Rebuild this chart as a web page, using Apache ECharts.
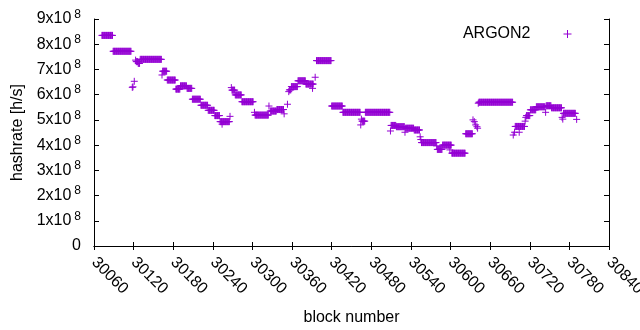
<!DOCTYPE html>
<html>
<head>
<meta charset="utf-8">
<title>ARGON2 hashrate</title>
<script src="https://cdn.jsdelivr.net/npm/echarts@6/dist/echarts.min.js"></script>
<style>
  html, body { margin: 0; padding: 0; background: #fff; }
  #chart { width: 640px; height: 330px; }
</style>
</head>
<body>
<div id="chart"></div>
<script>
// runs of constant hashrate (one point per block)
var runStart = [30072, 30089, 30118, 30119, 30121, 30123, 30124, 30127, 30130, 30163,
  30164, 30171, 30184, 30191, 30201, 30209, 30222, 30233, 30243, 30251,
  30254, 30266, 30268, 30269, 30274, 30284, 30303, 30304, 30325, 30327,
  30337, 30348, 30353, 30355, 30356, 30359, 30369, 30381, 30391, 30395,
  30397, 30420, 30437, 30464, 30465, 30466, 30471, 30509, 30510, 30518,
  30531, 30532, 30545, 30554, 30555, 30556, 30579, 30580, 30588, 30599,
  30602, 30623, 30634, 30636, 30638, 30640, 30641, 30642, 30643, 30695,
  30697, 30698, 30704, 30713, 30714, 30715, 30721, 30730, 30744, 30745,
  30753, 30769, 30770, 30771, 30791];
var runEnd = [30088, 30116, 30118, 30119, 30121, 30123, 30126, 30129, 30162, 30163,
  30170, 30183, 30190, 30200, 30208, 30221, 30232, 30242, 30250, 30265,
  30254, 30266, 30268, 30273, 30283, 30301, 30303, 30324, 30325, 30336,
  30347, 30348, 30353, 30355, 30358, 30368, 30380, 30392, 30391, 30395,
  30419, 30436, 30463, 30464, 30465, 30470, 30508, 30509, 30517, 30530,
  30531, 30544, 30553, 30554, 30555, 30578, 30579, 30587, 30601, 30599,
  30622, 30633, 30634, 30636, 30638, 30640, 30641, 30642, 30694, 30695,
  30697, 30712, 30704, 30713, 30714, 30720, 30729, 30743, 30744, 30752,
  30768, 30769, 30770, 30789, 30791];
// hashrate of each run, in units of 10^8 h/s
var runRate = [8.35, 7.72, 6.29, 6.31, 6.53, 7.37, 7.31, 7.24, 7.40, 6.78,
  6.93, 6.58, 6.22, 6.35, 6.25, 5.82, 5.58, 5.38, 5.17, 4.93,
  4.83, 5.14, 6.28, 6.18, 5.99, 5.72, 5.30, 5.19, 5.55, 5.35,
  5.41, 5.24, 5.62, 6.12, 6.19, 6.32, 6.55, 6.42, 6.25, 6.69,
  7.35, 5.55, 5.30, 4.80, 5.03, 4.95, 5.30, 4.56, 4.78, 4.73,
  4.51, 4.67, 4.60, 4.33, 4.22, 4.10, 3.97, 3.83, 4.00, 3.81,
  3.68, 4.45, 5.00, 4.93, 4.80, 4.73, 4.67, 5.66, 5.70, 4.40,
  4.51, 4.74, 4.51, 4.95, 5.10, 5.17, 5.40, 5.52, 5.30, 5.56,
  5.48, 5.10, 5.03, 5.26, 5.02];

var yTicks = ['0', '1', '2', '3', '4', '5', '6', '7', '8', '9'];

var points = [];
for (var i = 0; i < runStart.length; i++) {
  for (var b = runStart[i]; b <= runEnd[i]; b++) {
    points.push([b, runRate[i] * 1e8]);
  }
}

var FONT = '"Liberation Sans", Arial, sans-serif';
var PURPLE = '#9400d3';
var PLUS = 'path://M0,4L8,4M4,0L4,8';

var myChart = echarts.init(document.getElementById('chart'), null, { renderer: 'canvas' });

var option = {
  animation: false,
  backgroundColor: '#fff',
  textStyle: { fontFamily: FONT, color: '#000' },
  grid: { left: 94, right: 31, top: 19, bottom: 84, outerBoundsMode: 'none' },
  legend: {
    right: 66,
    top: 26,
    padding: 0,
    align: 'right',
    icon: PLUS,
    itemWidth: 8,
    itemHeight: 8,
    itemStyle: { color: 'none', borderColor: PURPLE, borderWidth: 1 },
    textStyle: { fontFamily: FONT, fontSize: 16, color: '#000', padding: [0, 28, 0, 0] },
    data: ['ARGON2']
  },
  xAxis: [{
    type: 'value',
    min: 30060,
    max: 30840,
    interval: 60,
    name: 'block number',
    nameLocation: 'middle',
    nameGap: 64,
    nameTextStyle: { fontFamily: FONT, fontSize: 16, color: '#000' },
    axisLine: { show: true, lineStyle: { color: '#000', width: 1 } },
    axisTick: { show: true, inside: true, length: 4, lineStyle: { color: '#000' } },
    axisLabel: {
      rotate: -45, margin: 14, fontFamily: FONT, fontSize: 16, color: '#000',
      formatter: function (v) { return String(v); }
    },
    splitLine: { show: false }
  }, {
    type: 'value',
    position: 'top',
    min: 30060,
    max: 30840,
    interval: 60,
    axisLine: { show: true, lineStyle: { color: '#000', width: 1 } },
    axisTick: { show: true, inside: true, length: 4, lineStyle: { color: '#000' } },
    axisLabel: { show: false },
    splitLine: { show: false }
  }],
  yAxis: [{
    type: 'value',
    min: 0,
    max: 9e8,
    interval: 1e8,
    name: 'hashrate [h/s]',
    nameLocation: 'middle',
    nameGap: 66,
    nameTextStyle: { fontFamily: FONT, fontSize: 16, color: '#000' },
    axisLine: { show: true, lineStyle: { color: '#000', width: 1 } },
    axisTick: { show: true, inside: true, length: 5, lineStyle: { color: '#000' } },
    axisLabel: {
      margin: 13,
      formatter: function (v) {
        var t = yTicks[Math.round(v / 1e8)];
        return t === '0' ? '{m|0}' : '{m|' + t + 'x10}{s|8}';
      },
      rich: {
        m: { fontFamily: FONT, fontSize: 16, color: '#000' },
        s: { fontFamily: FONT, fontSize: 12, color: '#000', padding: [0, 0, 9, 3] }
      }
    },
    splitLine: { show: false }
  }, {
    type: 'value',
    position: 'right',
    min: 0,
    max: 9e8,
    interval: 1e8,
    axisLine: { show: true, lineStyle: { color: '#000', width: 1 } },
    axisTick: { show: true, inside: true, length: 5, lineStyle: { color: '#000' } },
    axisLabel: { show: false },
    splitLine: { show: false }
  }],
  series: [{
    name: 'ARGON2',
    type: 'scatter',
    xAxisIndex: 0,
    yAxisIndex: 0,
    symbol: PLUS,
    symbolSize: 7,
    itemStyle: { color: 'none', borderColor: PURPLE, borderWidth: 1, opacity: 1 },
    data: points
  }]
};

myChart.setOption(option);
</script>
</body>
</html>
